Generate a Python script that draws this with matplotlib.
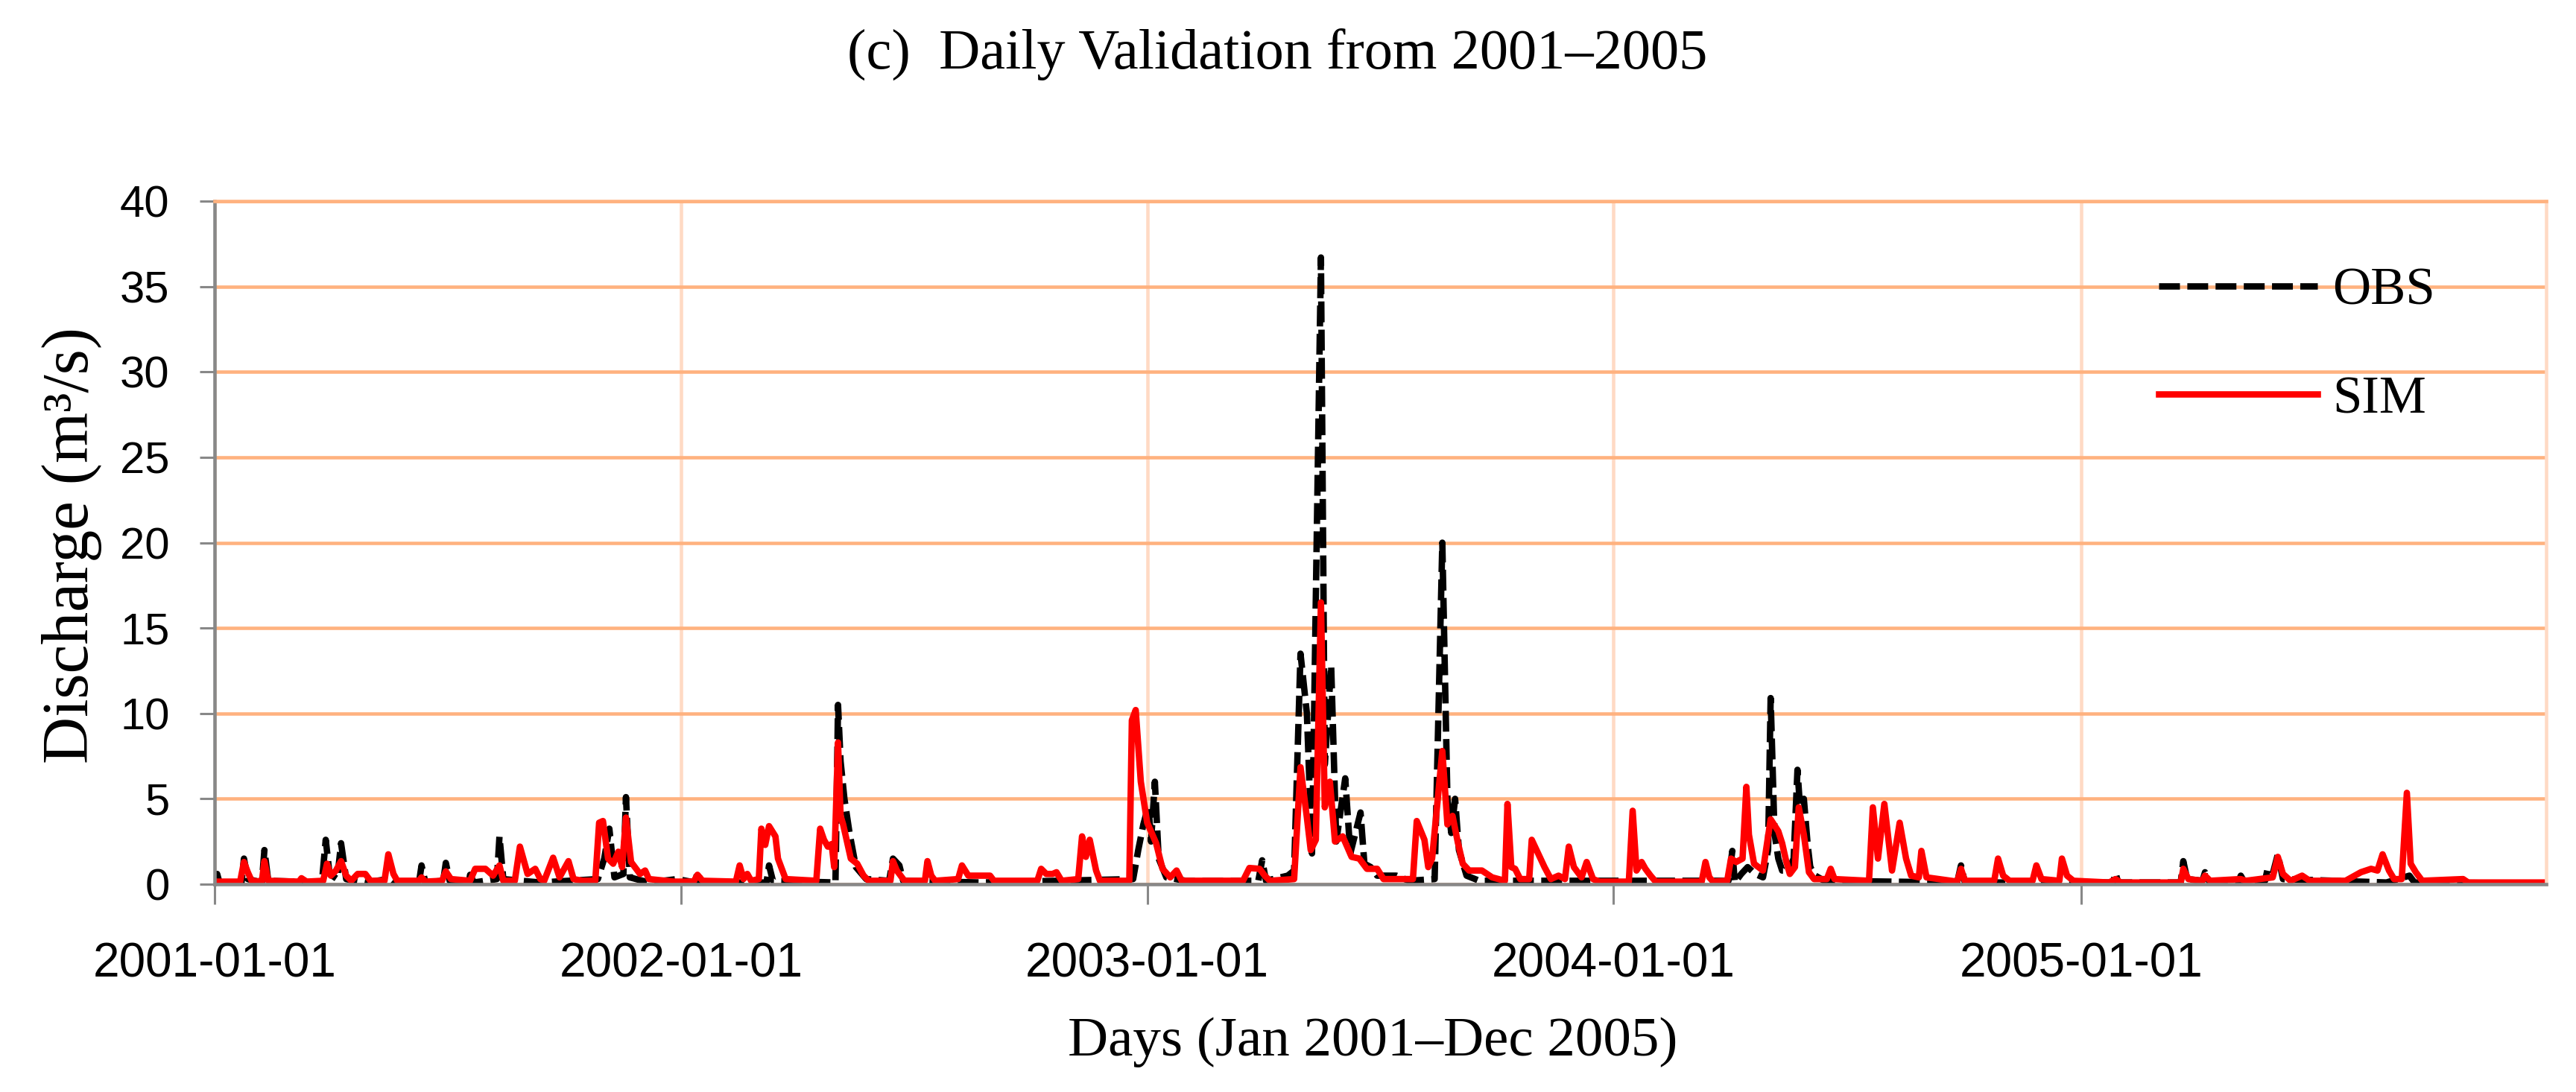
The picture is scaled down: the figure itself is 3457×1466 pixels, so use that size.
import matplotlib
matplotlib.use("Agg")
import matplotlib.pyplot as plt
import pandas as pd

# (day since 2001-01-01, discharge m3/s)
obs_points = [
    # 2001
    (0, 0.1), (2, 0.6), (4, 0.05), (21, 0.05), (23, 1.5), (26, 0.3), (37, 0.1), (39, 2.0), (42, 0.2),
    (84, 0.1), (87, 2.6), (90, 0.6), (96, 0.3), (99, 2.4), (103, 0.3), (118, 0.1), (136, 0.3), (140, 0.05),
    (160, 0.1), (162, 1.1), (165, 0.1), (179, 0.2), (181, 1.25), (184, 0.2), (199, 0.1), (200, 0.55),
    (203, 0.1), (221, 0.3), (223, 2.8), (226, 0.3), (240, 0.2), (255, 0.1), (300, 0.3), (305, 1.5),
    (309, 3.25), (313, 0.4), (320, 0.6), (322, 5.1), (325, 0.4), (340, 0.1), (362, 0.3),
    # 2002
    (376, 0.1), (378, 0.7), (381, 0.1), (432, 0.1), (434, 1.1), (437, 0.2), (486, 0.1), (488, 10.5),
    (490, 7.2), (493, 5.0), (497, 3.0), (502, 1.0), (510, 0.3), (528, 0.2), (531, 1.5), (536, 1.1),
    (539, 0.2), (600, 0.1), (719, 0.3), (723, 2.0), (727, 3.5), (731, 4.6), (733, 2.5), (736, 6.0),
    (739, 1.5), (745, 0.4), (760, 0.2),
    # 2003
    (817, 0.2), (820, 1.4), (823, 0.2), (840, 0.5), (845, 0.8), (850, 13.5), (855, 10.0), (859, 1.8),
    (866, 36.7), (869, 7.0), (874, 12.8), (878, 2.5), (885, 6.2), (889, 1.8), (897, 4.2), (900, 1.2),
    (905, 1.0), (910, 0.5), (925, 0.5), (935, 0.2), (955, 0.3), (961, 20.0), (965, 5.0), (968, 3.0),
    (971, 5.0), (974, 2.0), (980, 0.5), (990, 0.2),
    # 2004
    (1185, 0.2), (1188, 1.95), (1190, 0.1), (1195, 0.6), (1200, 1.0), (1206, 0.6), (1212, 0.4),
    (1216, 2.0), (1218, 10.9), (1221, 3.0), (1224, 1.5), (1227, 0.8), (1232, 0.8), (1236, 1.5),
    (1239, 6.7), (1241, 4.5), (1244, 5.0), (1247, 2.3), (1249, 1.0), (1253, 0.5), (1260, 0.2),
    (1364, 0.1), (1367, 1.1), (1370, 0.1),
    # 2005
    (1486, 0.1), (1488, 0.65), (1490, 0.1), (1539, 0.1), (1541, 1.35), (1544, 0.3), (1556, 0.2),
    (1558, 0.7), (1561, 0.2), (1584, 0.1), (1586, 0.5), (1589, 0.1), (1605, 0.2), (1607, 0.9),
    (1611, 0.6), (1615, 1.75), (1619, 0.3), (1700, 0.1), (1718, 0.5), (1722, 0.1), (1825, 0.05),
]

sim_points = [
    # 2001
    (0, 0.15), (20, 0.15), (23, 1.3), (26, 0.7), (29, 0.2), (37, 0.15), (39, 1.35), (42, 0.2),
    (66, 0.15), (68, 0.35), (72, 0.15), (85, 0.2), (88, 1.2), (91, 0.5), (95, 0.8), (99, 1.35),
    (103, 0.5), (107, 0.2), (112, 0.6), (118, 0.6), (122, 0.2), (133, 0.2), (136, 1.75), (140, 0.6),
    (143, 0.2), (160, 0.2), (162, 0.4), (165, 0.15), (178, 0.2), (181, 0.75), (185, 0.3), (200, 0.2),
    (204, 0.9), (212, 0.9), (218, 0.5), (223, 1.1), (226, 0.2), (235, 0.2), (239, 2.2), (245, 0.6),
    (251, 0.9), (255, 0.3), (258, 0.2), (265, 1.55), (270, 0.4), (277, 1.35), (281, 0.3), (288, 0.2),
    (298, 0.2), (301, 3.6), (304, 3.7), (308, 1.5), (312, 1.2), (316, 1.9), (319, 1.0), (322, 3.9),
    (326, 1.3), (333, 0.6), (337, 0.8), (340, 0.3), (360, 0.15),
    # 2002
    (375, 0.15), (378, 0.55), (382, 0.2), (408, 0.15), (411, 1.1), (414, 0.3), (417, 0.6), (420, 0.2),
    (426, 0.3), (428, 3.25), (431, 2.3), (434, 3.4), (439, 2.8), (441, 1.5), (447, 0.3), (471, 0.2),
    (474, 3.25), (477, 2.6), (480, 2.2), (483, 2.35), (485, 1.0), (488, 8.3), (490, 4.0), (492, 3.5),
    (495, 2.5), (498, 1.5), (503, 1.2), (508, 0.5), (512, 0.2), (529, 0.2), (531, 1.35), (534, 0.8),
    (537, 0.5), (540, 0.2), (556, 0.2), (558, 1.35), (561, 0.5), (564, 0.2), (582, 0.3), (585, 1.1),
    (590, 0.5), (600, 0.5), (607, 0.5), (610, 0.2), (644, 0.2), (647, 0.9), (651, 0.6), (656, 0.6),
    (659, 0.7), (663, 0.2), (676, 0.3), (679, 2.8), (682, 1.6), (685, 2.6), (690, 0.8), (693, 0.2),
    (716, 0.2), (718, 9.6), (721, 10.2), (725, 6.0), (730, 3.6), (737, 2.4), (742, 0.9), (748, 0.4),
    (753, 0.8), (757, 0.2),
    # 2003
    (805, 0.2), (810, 0.95), (818, 0.9), (822, 0.5), (826, 0.2), (845, 0.3), (850, 6.85), (855, 3.9),
    (858, 2.0), (862, 2.6), (866, 16.5), (869, 4.5), (873, 6.0), (877, 2.5), (883, 2.8), (890, 1.6),
    (896, 1.5), (902, 0.9), (910, 0.9), (915, 0.3), (938, 0.3), (941, 3.7), (947, 2.6), (950, 1.0),
    (953, 1.5), (961, 7.8), (965, 3.5), (969, 4.0), (973, 2.5), (977, 1.2), (982, 0.8), (992, 0.8),
    (1000, 0.4), (1010, 0.2), (1012, 4.7), (1015, 1.0), (1018, 0.9), (1022, 0.3), (1029, 0.3),
    (1031, 2.6), (1036, 1.8), (1041, 1.0), (1046, 0.3), (1052, 0.5), (1057, 0.3), (1060, 2.2),
    (1064, 1.0), (1070, 0.4), (1074, 1.3), (1079, 0.3), (1084, 0.15),
    # 2004
    (1107, 0.15), (1110, 4.3), (1113, 0.8), (1117, 1.3), (1120, 0.9), (1124, 0.5), (1128, 0.15),
    (1164, 0.15), (1167, 1.3), (1170, 0.4), (1173, 0.15), (1184, 0.2), (1187, 1.5), (1191, 1.3),
    (1196, 1.5), (1199, 5.7), (1201, 2.9), (1205, 1.2), (1212, 0.8), (1218, 3.8), (1224, 3.1),
    (1227, 2.4), (1230, 1.4), (1233, 0.6), (1237, 1.0), (1240, 4.5), (1244, 2.9), (1248, 0.7),
    (1252, 0.3), (1262, 0.3), (1265, 0.9), (1268, 0.3), (1295, 0.2), (1298, 4.5), (1302, 1.5),
    (1307, 4.7), (1313, 0.8), (1319, 3.6), (1324, 1.5), (1328, 0.5), (1334, 0.4), (1336, 1.95),
    (1340, 0.4), (1364, 0.15), (1367, 0.9), (1370, 0.2), (1393, 0.2), (1396, 1.5), (1400, 0.5),
    (1405, 0.2), (1423, 0.2), (1426, 1.1), (1430, 0.3), (1444, 0.2), (1446, 1.5), (1450, 0.5),
    (1455, 0.2),
    # 2005
    (1483, 0.1), (1488, 0.3), (1492, 0.1), (1539, 0.1), (1541, 0.9), (1545, 0.3), (1556, 0.2),
    (1558, 0.5), (1562, 0.2), (1586, 0.3), (1590, 0.2), (1611, 0.4), (1615, 1.6), (1619, 0.6),
    (1625, 0.2), (1634, 0.5), (1640, 0.2), (1668, 0.2), (1680, 0.7), (1688, 0.9), (1693, 0.8),
    (1697, 1.75), (1702, 0.8), (1706, 0.3), (1712, 0.3), (1716, 5.35), (1719, 1.2), (1723, 0.7),
    (1728, 0.2), (1760, 0.3), (1764, 0.1), (1825, 0.1),
]

year_ticks = ["2001-01-01", "2002-01-01", "2003-01-01", "2004-01-01", "2005-01-01"]
y_ticks = [0, 5, 10, 15, 20, 25, 30, 35, 40]

start = pd.Timestamp("2001-01-01")
obs_day, obs_q = zip(*obs_points)
sim_day, sim_q = zip(*sim_points)
obs_date = start + pd.to_timedelta(list(obs_day), unit="D")
sim_date = start + pd.to_timedelta(list(sim_day), unit="D")

serif = "Liberation Serif"
sans = "Liberation Sans"
hgrid = "#ffb27f"
vgrid = "#ffdac4"
axgray = "#888888"

fig = plt.figure(figsize=(34.57, 14.66), dpi=100)
ax = fig.add_axes([0.0833, 0.1903, 0.9051, 0.6255])

ax.plot(obs_date, obs_q, color="black", lw=6.2, dashes=(3.25, 1.15), label="OBS")
ax.plot(sim_date, sim_q, color="#ff0000", lw=6.2, label="SIM")

ax.set_ylim(0, 40)
ax.set_xlim(start, pd.Timestamp("2005-12-31"))
ax.set_yticks(y_ticks)
ax.set_xticks(pd.to_datetime(year_ticks))
ax.set_xticklabels(year_ticks, fontfamily=sans, fontsize=46)
ax.set_yticklabels([str(v) for v in y_ticks], fontfamily=sans, fontsize=43)

ax.set_axisbelow(True)
ax.yaxis.grid(True, color=hgrid, lw=3.3)
ax.xaxis.grid(True, color=vgrid, lw=3.3)

ax.spines["left"].set_color(axgray)
ax.spines["left"].set_linewidth(3.3)
ax.spines["bottom"].set_color(axgray)
ax.spines["bottom"].set_linewidth(3.3)
ax.spines["top"].set_color(hgrid)
ax.spines["top"].set_linewidth(3.3)
ax.spines["right"].set_color(vgrid)
ax.spines["right"].set_linewidth(3.3)

ax.tick_params(axis="y", direction="out", length=14.5, width=2.2, color=axgray, pad=29)
ax.tick_params(axis="x", direction="out", length=19.5, width=2.2, color=axgray, pad=36)

ax.legend(loc="upper left", bbox_to_anchor=(0.834, 0.903), frameon=False,
          prop={"family": serif, "size": 51}, handlelength=3.0, handletextpad=0.28,
          labelspacing=1.13, borderpad=0, borderaxespad=0)

fig.text(0.4958, 0.937, "(c)  Daily Validation from 2001\u20132005", family=serif,
         fontsize=55, ha="center", va="baseline")
fig.text(0.5328, 0.0334, "Days (Jan 2001\u2013Dec 2005)", family=serif,
         fontsize=54, ha="center", va="baseline")
fig.text(0.0278, 0.5007, "Discharge (m\u00b3/s)", family=serif, fontsize=63,
         rotation=90, ha="center", va="center")

fig.savefig("out.png", dpi=100)
